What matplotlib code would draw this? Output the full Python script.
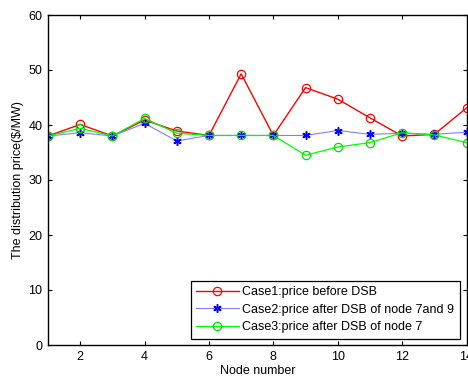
import numpy as np
import matplotlib.pyplot as plt

plt.rcParams['font.family'] = ['Liberation Sans', 'DejaVu Sans']

nodes = np.arange(1, 15)
case1 = [38.0, 40.1, 38.0, 40.9, 38.9, 38.1, 49.3, 38.1, 46.8, 44.7, 41.3, 38.0, 38.3, 43.1]
case2 = [38.0, 38.6, 38.0, 40.3, 37.1, 38.1, 38.1, 38.1, 38.1, 39.0, 38.3, 38.5, 38.3, 38.7]
case3 = [38.0, 39.4, 38.0, 41.2, 38.5, 38.1, 38.1, 38.1, 34.5, 36.0, 36.8, 38.6, 38.2, 36.8]

labels = ["Case1:price before DSB",
          "Case2:price after DSB of node 7and 9",
          "Case3:price after DSB of node 7"]

fig = plt.figure(figsize=(4.68, 3.78), dpi=100)
ax = fig.add_axes([48 / 468, 33 / 378, 418.5 / 468, 330 / 378])

ax.plot(nodes, case1, color='#ff0000', lw=1.0, marker='o', ms=6,
        mfc='none', mec='#ff0000', mew=0.9, label=labels[0])
ax.plot(nodes, case2, color='#7f7fff', lw=0.8, marker=(6, 2, 0), ms=6,
        mfc='#0000ff', mec='#0000ff', mew=1.1, label=labels[1])
ax.plot(nodes, case3, color='#00ff00', lw=0.9, marker='o', ms=6,
        mfc='none', mec='#00dd00', mew=0.9, label=labels[2])

ax.set_xlim(1, 14)
ax.set_ylim(0, 60)
ax.set_xticks(range(2, 15, 2))
ax.set_yticks(range(0, 61, 10))
ax.tick_params(direction='in', top=True, right=True, labelsize=9, length=3, width=0.8, pad=4)
for s in ax.spines.values():
    s.set_linewidth(1.0)

ax.set_xlabel("Node number", fontsize=9, labelpad=2)
ax.set_ylabel("The distribution price($/MW)", fontsize=9, labelpad=3)

leg = ax.legend(loc='lower right', bbox_to_anchor=(0.9845, 0.018), borderaxespad=0,
                fontsize=9, handlelength=3.4, handletextpad=0.3, labelspacing=0.45,
                borderpad=0.45, fancybox=False, framealpha=1, edgecolor='black')
leg.get_frame().set_linewidth(0.9)

fig.savefig("out.png", dpi=100)
